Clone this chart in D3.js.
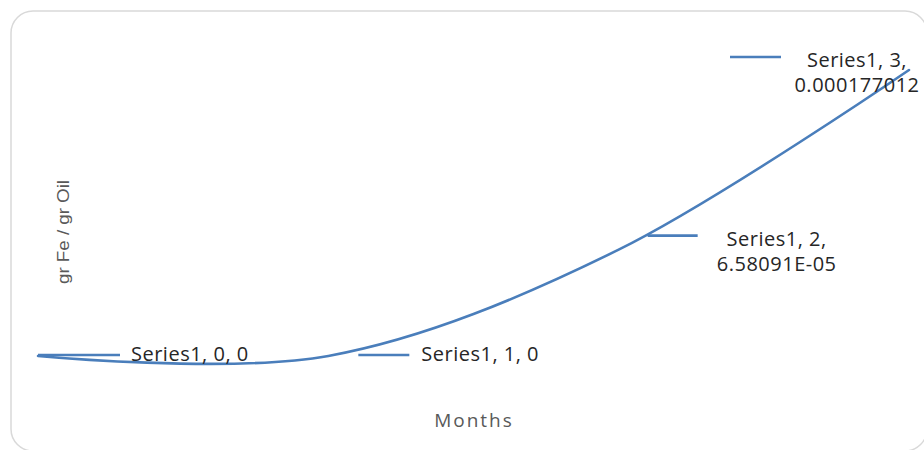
<!DOCTYPE html>
<html>
<head>
<meta charset="utf-8">
<script src="https://cdn.jsdelivr.net/npm/d3@7"></script>
<style>
  html, body { margin: 0; padding: 0; background: #fff; }
  svg { display: block; }
</style>
</head>
<body>
<svg id="chart" width="924" height="450"></svg>
<script>
// Iron content of oil over time
const seriesName = "Series1";
const months = [0, 1, 2, 3];
const feRatio = [0, 0, 6.58091e-05, 0.000177012];
const valueText = ["0", "0", "6.58091E-05", "0.000177012"];

// Label placement relative to each point: leader line span and text anchor
const labelLayout = [
  { lx0: 0,    lx1: 82,   ly: -1,  tx: 93,  ty: 5,   anchor: "start",  twoLines: false },
  { lx0: 30,   lx1: 81,   ly: -1,  tx: 93,  ty: 5,   anchor: "start",  twoLines: false },
  { lx0: 29,   lx1: 79,   ly: -14, tx: 158, ty: -4,  anchor: "middle", twoLines: true },
  { lx0: -179, lx1: -128, ly: -13, tx: -52, ty: -3,  anchor: "middle", twoLines: true }
];

const svg = d3.select("#chart");
const blue = "#4a7ebb";
const labelFont = "'Open Sans', Lato, sans-serif";

// Outer chart frame
svg.append("rect")
  .attr("x", 11).attr("y", 11)
  .attr("width", 916).attr("height", 440)
  .attr("rx", 22).attr("ry", 22)
  .attr("fill", "#fff")
  .attr("stroke", "#d9d9d9")
  .attr("stroke-width", 1.5);

const x = d3.scaleLinear().domain([0, 3]).range([38, 909]);
const y = d3.scaleLinear().domain([0, 0.000177012]).range([356, 70]);

const pts = months.map((m, i) => ({ m, v: feRatio[i], i }));

// Smoothed series line
const line = d3.line()
  .x(d => x(d.m))
  .y(d => y(d.v))
  .curve(d3.curveCardinal.tension(0));

svg.append("path")
  .datum(pts)
  .attr("d", line)
  .attr("fill", "none")
  .attr("stroke", blue)
  .attr("stroke-width", 2.6)
  .attr("stroke-linecap", "round");

// Data labels with leader lines
const labels = svg.append("g");
pts.forEach((d, i) => {
  const L = labelLayout[i];
  const px = x(d.m), py = y(d.v);
  labels.append("line")
    .attr("x1", px + L.lx0).attr("x2", px + L.lx1)
    .attr("y1", py + L.ly).attr("y2", py + L.ly)
    .attr("stroke", blue)
    .attr("stroke-width", 2.6);
  const t = labels.append("text")
    .attr("x", px + L.tx).attr("y", py + L.ty)
    .attr("text-anchor", L.anchor)
    .attr("font-family", labelFont)
    .attr("font-size", 20)
    .attr("letter-spacing", 0.5)
    .attr("fill", "#262626");
  if (L.twoLines) {
    t.append("tspan").attr("x", px + L.tx).text(`${seriesName}, ${d.m},`);
    t.append("tspan").attr("x", px + L.tx).attr("dy", 25).text(valueText[i]);
  } else {
    t.text(`${seriesName}, ${d.m}, ${valueText[i]}`);
  }
});

// Axis titles
svg.append("text")
  .attr("x", 474).attr("y", 427)
  .attr("text-anchor", "middle")
  .attr("font-family", labelFont)
  .attr("font-size", 19)
  .attr("letter-spacing", 2)
  .attr("fill", "#595959")
  .text("Months");

svg.append("text")
  .attr("transform", "translate(69,232) rotate(-90)")
  .attr("text-anchor", "middle")
  .attr("font-family", "'Liberation Sans', Arial, sans-serif")
  .attr("font-size", 17)
  .attr("textLength", 104)
  .attr("lengthAdjust", "spacingAndGlyphs")
  .attr("fill", "#595959")
  .text("gr Fe / gr Oil");
</script>
</body>
</html>
